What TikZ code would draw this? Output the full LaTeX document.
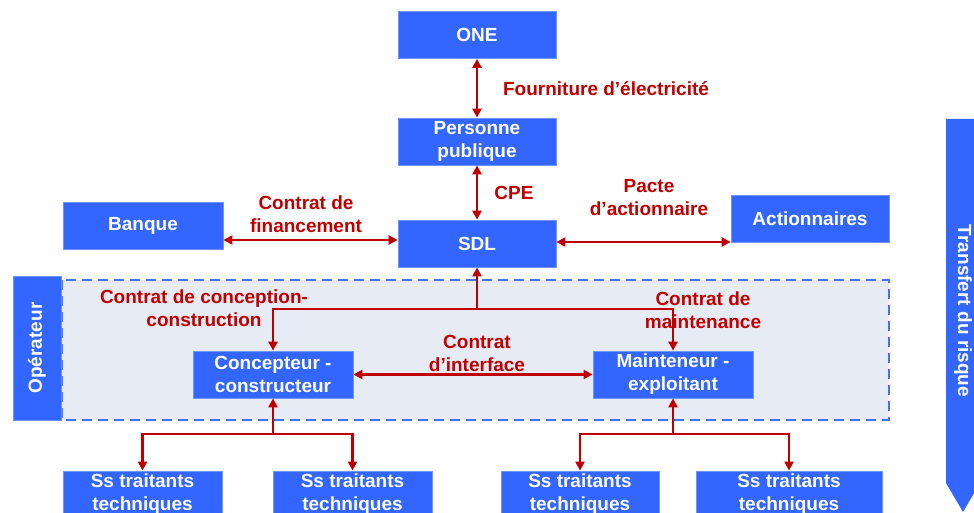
\documentclass[tikz,border=0pt]{standalone}
\usepackage{fontspec}
\setmainfont{Liberation Sans}
\usetikzlibrary{arrows.meta}
\definecolor{boxblue}{RGB}{51,102,255}
\definecolor{contratred}{RGB}{192,0,0}
\definecolor{zonefill}{RGB}{231,235,243}
\definecolor{zoneline}{RGB}{68,114,255}
\tikzset{
	>={Triangle[length=9pt,width=9pt]},
	every node/.style={font=\fontsize{19}{23}\selectfont\bfseries, align=center},
	entity/.style={fill=boxblue, draw=boxblue!70!white, line width=0.8pt, text=white, inner sep=0pt, minimum width=158pt, minimum height=47pt},
	contrat/.style={text=contratred},
	link/.style={draw=contratred, line width=2.5pt},
	zone/.style={fill=zonefill, draw=zoneline, line width=2.5pt, dash pattern=on 10pt off 6pt}
}

\begin{document}
\begin{tikzpicture}
	[ x=1pt, y=-1pt ]
	\useasboundingbox (0,0) rectangle (974,513);
	\clip (0,0) rectangle (974,513);
	% zone operateur
	\draw[zone] (62,280) rectangle (889,420);
	\node(oper)[entity, rotate=90, minimum width=144pt, minimum height=48pt] at (37,348) {Opérateur};
	% transfert du risque
	\fill[boxblue] (946,119) -- (980,119) -- (980,483) -- (963,512) -- (946,483) -- cycle;
	\node(risque)[text=white, rotate=-90] at (963,311) {Transfert du risque};

	\node(one)[entity] at (477,35) {ONE};
	\node(pp)[entity] at (477,141.5) {Personne\\publique};
	\node(sdl)[entity] at (477,243.5) {SDL};
	\node(banque)[entity, minimum width=160pt] at (143,225.5) {Banque};
	\node(act)[entity] at (810,219) {Actionnaires};
	\node(conc)[entity, minimum width=160pt] at (273,374.5) {Concepteur -\\constructeur};
	\node(maint)[entity, minimum width=160pt] at (673,374.5) {Mainteneur -\\exploitant};
	\node(ss1)[entity, minimum width=159pt] at (142.5,494.5) {Ss traitants\\techniques};
	\node(ss2)[entity, minimum width=159pt] at (352.5,494.5) {Ss traitants\\techniques};
	\node(ss3)[entity] at (580,494.5) {Ss traitants\\techniques};
	\node(ss4)[entity, minimum width=186pt] at (789,494.5) {Ss traitants\\techniques};

	\node(lelec)[contrat] at (606,89) {Fourniture d’électricité};
	\node(lcpe)[contrat] at (514,193) {CPE};
	\node(lfin)[contrat] at (306,214) {Contrat de\\financement};
	\node(lpacte)[contrat] at (649,198) {Pacte\\d’actionnaire};
	\node(lcc)[contrat] at (204,308) {Contrat de conception-\\construction};
	\node(lmaint)[contrat] at (703,310) {Contrat de\\maintenance};
	\node(linter)[contrat] at (477,353) {Contrat\\d’interface};

	\draw[link, <->] (one) -- (pp);
	\draw[link, <->] (pp) -- (sdl);
	\draw[link, <->] ([yshift=-14.5pt]banque.east) -- ([yshift=-14.5pt]banque.east -| sdl.west);
	\draw[link, <->] ([yshift=1.5pt]sdl.east) -- ([yshift=1.5pt]sdl.east -| act.west);
	\coordinate (haut) at (477,309);
	\draw[link, ->] (haut) -- (sdl);
	\draw[link, ->] (haut) -| (conc);
	\draw[link, ->] (haut) -| (maint);
	\draw[link, <->] (conc) -- (maint);
	\coordinate (gauche) at (273,434);
	\draw[link, ->] (gauche) -- (conc);
	\draw[link, ->] (gauche) -| (ss1);
	\draw[link, ->] (gauche) -| (ss2);
	\coordinate (droite) at (673,434);
	\draw[link, ->] (droite) -- (maint);
	\draw[link, ->] (droite) -| (ss3);
	\draw[link, ->] (droite) -| (ss4);
\end{tikzpicture}
\end{document}
